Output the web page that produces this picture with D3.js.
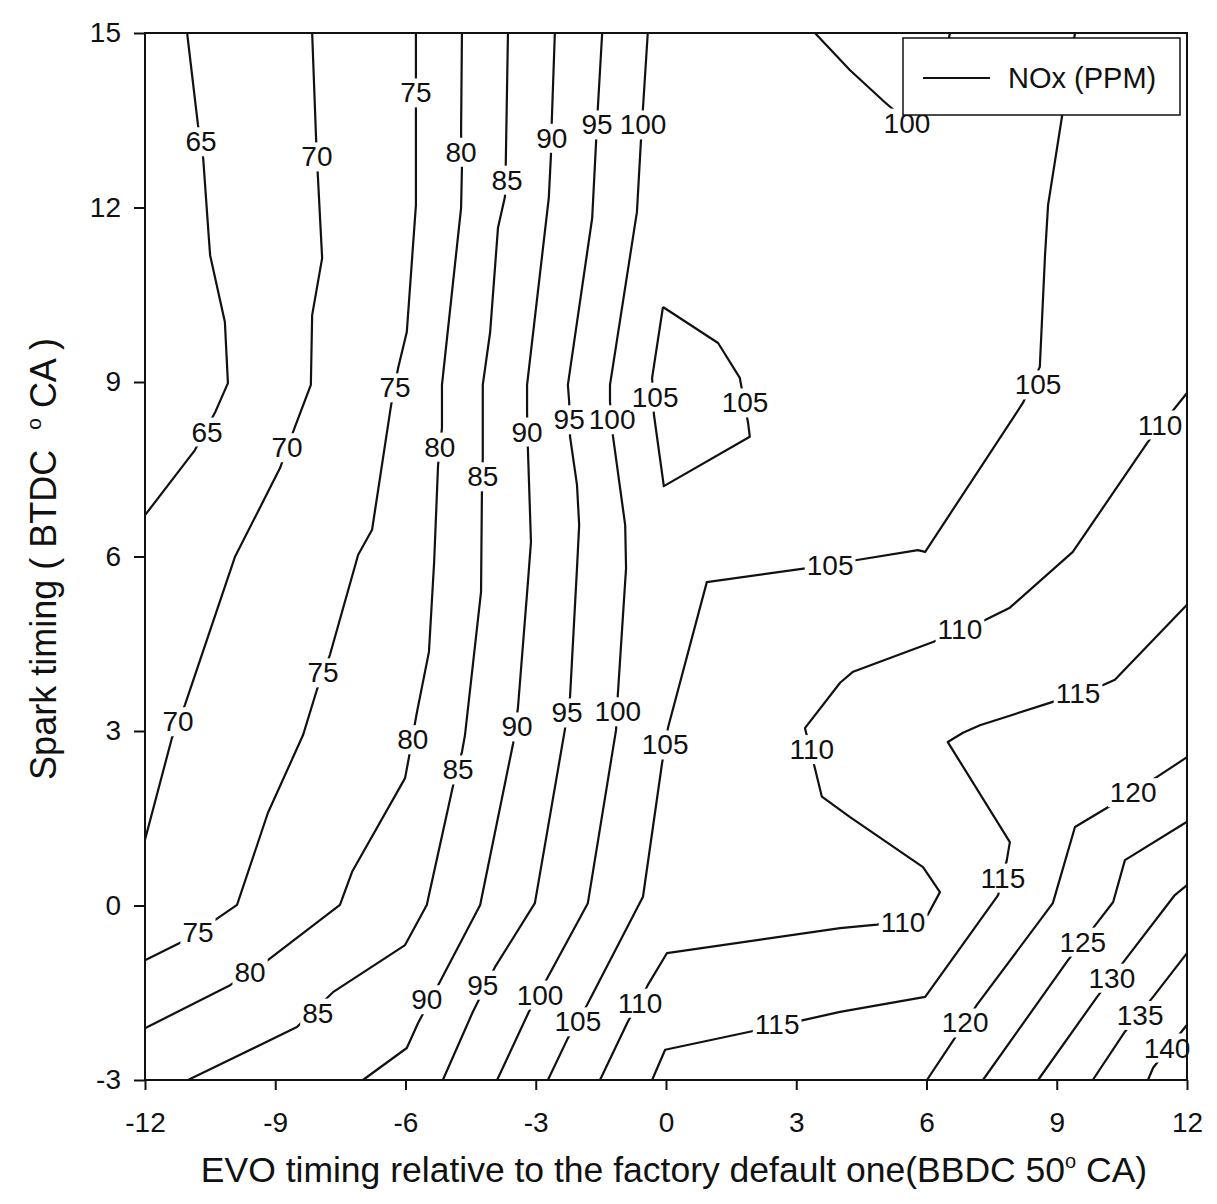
<!DOCTYPE html>
<html>
<head>
<meta charset="utf-8">
<script src="https://cdn.jsdelivr.net/npm/d3@7"></script>
<style>
  body { margin: 0; background: #fff; }
  svg text { font-family: "Liberation Sans", Arial, sans-serif; fill: #111; }
</style>
</head>
<body>
<svg id="chart" width="1217" height="1204"></svg>
<script>
// axis ticks
const xTicks = [-12, -9, -6, -3, 0, 3, 6, 9, 12];
const yTicks = [-3, 0, 3, 6, 9, 12, 15];

// NOx contour lines, vertices as [EVO timing, spark timing]
const nox65 = [[[-11.03,15],[-10.78,13.42],[-10.66,12.85],[-10.53,11.48],[-10.5,11.18],[-10.16,10.03],[-10.09,8.98],[-10.39,8.47],[-10.85,7.83],[-12,6.71]]];
const nox70 = [[[-8.15,15],[-8.06,13.19],[-8.02,12.56],[-7.92,11.13],[-8.15,10.15],[-8.18,8.95],[-8.57,8.18],[-8.89,7.52],[-9.93,5.99],[-11.08,3.45],[-11.38,2.88],[-12,1.13]]];
const nox75 = [[[-5.76,15],[-5.76,14.28],[-5.76,13.64],[-5.76,12.04],[-5.97,9.86],[-6.17,9.24],[-6.33,8.61],[-6.77,6.46],[-7.09,6.03],[-7.74,4.31],[-8.04,3.71],[-8.36,2.93],[-9.17,1.59],[-9.88,0.01],[-10.39,-0.25],[-11.19,-0.64],[-12,-0.94]]];
const nox80 = [[[-4.70,15],[-4.72,13.28],[-4.70,12.68],[-4.72,11.99],[-5.16,8.95],[-5.16,8.21],[-5.25,7.57],[-5.34,5.91],[-5.46,4.36],[-5.74,3.31],[-5.92,2.55],[-6.01,2.19],[-7.23,0.58],[-7.51,0.01],[-9.17,-0.94],[-10.04,-1.37],[-12,-2.11]]];
const nox85 = [[[-3.64,15],[-3.69,12.78],[-3.71,12.18],[-3.87,11.65],[-4.05,9.86],[-4.22,8.95],[-4.22,7.71],[-4.24,7.09],[-4.26,5.39],[-4.63,2.93],[-4.70,2.64],[-4.91,2.04],[-5.51,0.01],[-6.01,-0.68],[-7.67,-1.49],[-8.50,-2.09],[-11.01,-3]]];
const nox90 = [[[-2.56,15],[-2.63,13.50],[-2.65,12.90],[-2.70,12.16],[-3.20,8.95],[-3.20,8.47],[-3.18,7.83],[-3.11,6.25],[-3.18,5.56],[-3.41,3.40],[-3.52,2.79],[-4.28,0.01],[-5.27,-1.40],[-5.71,-2.02],[-5.97,-2.45],[-6.98,-3]]];
const nox95 = [[[-1.47,15],[-1.57,13.71],[-1.61,13.13],[-1.70,11.82],[-2.26,8.95],[-2.23,8.66],[-2.21,8.06],[-2.05,7.23],[-2.00,6.54],[-2.05,5.80],[-2.21,3.59],[-2.33,3.02],[-3.02,0.04],[-3.94,-1.06],[-4.45,-1.83],[-5.14,-3]]];
const nox100 = [
  [[-0.42,15],[-0.53,13.71],[-0.58,13.11],[-0.67,11.92],[-1.29,8.95],[-1.29,8.66],[-1.22,8.06],[-0.94,6.54],[-0.92,5.80],[-1.11,3.62],[-1.15,3.02],[-1.80,0.04],[-2.72,-1.23],[-3.16,-1.83],[-3.89,-3]],
  [[3.43,15],[4.24,14.36],[5.04,13.81],[5.6,13.45],[6.2,13.7],[6.54,15]]
];
const nox105 = [
  [[-0.07,10.29],[1.20,9.67],[1.70,9.07],[1.89,8.30],[1.93,8.06],[-0.05,7.21],[-0.28,8.45],[-0.32,9.07],[-0.07,10.29]],
  [[9.42,15],[9.12,13.56],[8.80,12.04],[8.73,11.18],[8.61,9.26],[8.22,8.64],[5.97,6.08],[5.80,6.11],[4.40,5.94],[3.25,5.80],[0.94,5.56],[0.05,3.07],[-0.09,2.45],[-0.53,0.15],[-1.82,-1.71],[-2.26,-2.28],[-2.72,-3]]
];
const nox110 = [[[12,8.81],[11.10,7.97],[9.37,6.08],[7.92,5.12],[7.35,4.91],[6.15,4.53],[4.31,4.02],[4.01,3.83],[3.20,3.05],[3.43,2.36],[3.59,1.87],[4.24,1.52],[5.92,0.66],[6.31,0.23],[6.03,-0.16],[4.86,-0.33],[4.01,-0.39],[0.02,-0.82],[-0.42,-1.37],[-0.88,-2.00],[-1.52,-3]]];
const nox115 = [[[12,5.17],[10.34,3.88],[10.07,3.79],[8.91,3.50],[7.23,3.10],[6.84,2.97],[6.49,2.81],[7.92,1.09],[7.85,0.78],[7.65,0.18],[5.97,-1.57],[4.01,-1.83],[3.16,-1.97],[1.93,-2.17],[-0.02,-2.48],[-0.32,-3]]];
const nox120 = [[[12,2.55],[11.31,2.21],[10.16,1.68],[9.42,1.35],[8.91,0.04],[7.16,-1.71],[6.59,-2.35],[6.01,-3]]];
const nox125 = [[[12,1.44],[10.57,0.78],[10.30,0.06],[9.93,-0.30],[9.26,-0.94],[7.30,-3]]];
const nox130 = [[[12,0.35],[11.72,0.18],[10.57,-0.94],[9.93,-1.57],[8.57,-3]]];
const nox135 = [[[12,-0.82],[11.22,-1.57],[10.57,-2.17],[9.83,-3]]];
const nox140 = [[[12,-2.05],[11.22,-2.79],[11.10,-3]]];

// in-line labels: [level, EVO timing, spark timing]
const contourLabels = [
  [65,-10.71,13.13],[65,-10.57,8.14],
  [70,-8.04,12.87],[70,-8.73,7.87],[70,-11.24,3.16],
  [75,-5.76,13.97],[75,-6.24,8.90],[75,-7.90,4.00],[75,-10.78,-0.47],
  [80,-4.72,12.95],[80,-5.21,7.88],[80,-5.83,2.85],[80,-9.58,-1.16],
  [85,-3.66,12.47],[85,-4.22,7.37],[85,-4.79,2.33],[85,-8.02,-1.85],
  [90,-2.63,13.19],[90,-3.20,8.14],[90,-3.43,3.07],[90,-5.51,-1.62],
  [95,-1.59,13.42],[95,-2.23,8.35],[95,-2.28,3.31],[95,-4.22,-1.37],
  [100,-0.53,13.42],[100,-1.24,8.35],[100,-1.11,3.33],[100,-2.90,-1.54],[100,5.55,13.45],
  [105,-0.25,8.74],[105,1.82,8.64],[105,8.57,8.95],[105,3.78,5.85],[105,-0.02,2.76],[105,-2.03,-2.00],
  [110,11.38,8.26],[110,6.77,4.74],[110,3.36,2.68],[110,5.46,-0.30],[110,-0.60,-1.68],
  [115,9.49,3.65],[115,7.76,0.47],[115,2.56,-2.05],
  [120,10.76,1.94],[120,6.89,-2.02],
  [125,9.60,-0.63],
  [130,10.27,-1.25],
  [135,10.92,-1.89],
  [140,11.54,-2.45]
];

const contourLines = [
  [65, nox65], [70, nox70], [75, nox75], [80, nox80], [85, nox85], [90, nox90],
  [95, nox95], [100, nox100], [105, nox105], [110, nox110], [115, nox115],
  [120, nox120], [125, nox125], [130, nox130], [135, nox135], [140, nox140]
];

const svg = d3.select("#chart");
const x = d3.scaleLinear().domain([-12, 12]).range([145, 1187]);
const y = d3.scaleLinear().domain([-3, 15]).range([1080, 33]);

const line = d3.line().x(d => x(d[0])).y(d => y(d[1]));

// contour lines
svg.append("g")
  .selectAll("path")
  .data(contourLines.flatMap(([lv, parts]) => parts.map(p => ({lv: lv, pts: p}))))
  .enter()
  .append("path")
    .attr("d", d => line(d.pts))
    .attr("fill", "none")
    .attr("stroke", "#111")
    .attr("stroke-width", 2.2)
    .attr("stroke-linejoin", "round");

// labels sit in a white gap on the line
const labels = svg.append("g");
contourLabels.forEach(([lv, a, b]) => {
  const g = labels.append("g");
  const t = g.append("text")
    .attr("x", x(a))
    .attr("y", y(b))
    .attr("text-anchor", "middle")
    .attr("dominant-baseline", "central")
    .attr("font-size", 28)
    .text(lv);
  const bb = t.node().getBBox();
  g.insert("rect", "text")
    .attr("x", bb.x - 2)
    .attr("y", bb.y + 1)
    .attr("width", bb.width + 4)
    .attr("height", bb.height - 2)
    .attr("fill", "#fff");
});

// frame
svg.append("rect")
  .attr("x", x(-12)).attr("y", y(15))
  .attr("width", x(12) - x(-12)).attr("height", y(-3) - y(15))
  .attr("fill", "none").attr("stroke", "#111").attr("stroke-width", 2);

// axes (plain hyphen for negatives, like the original)
const fmt = d => String(d);
const xAxis = svg.append("g")
  .attr("transform", `translate(0,${y(-3)})`)
  .call(d3.axisBottom(x).tickValues(xTicks).tickFormat(fmt).tickSize(10).tickSizeOuter(0).tickPadding(22));
const yAxis = svg.append("g")
  .attr("transform", `translate(${x(-12)},0)`)
  .call(d3.axisLeft(y).tickValues(yTicks).tickFormat(fmt).tickSize(11).tickSizeOuter(0).tickPadding(13));
[xAxis, yAxis].forEach(ax => {
  ax.select(".domain").remove();
  ax.selectAll(".tick line").attr("stroke", "#111").attr("stroke-width", 2);
  ax.selectAll(".tick text").attr("font-size", 28).attr("font-family", "Liberation Sans, Arial, sans-serif").attr("fill", "#111");
});

// axis titles
const xt = svg.append("text")
  .attr("x", 674).attr("y", 1182)
  .attr("text-anchor", "middle")
  .attr("font-size", 35.5)
  .style("white-space", "pre");
xt.append("tspan").text("EVO timing relative to the factory default one(BBDC 50");
xt.append("tspan").attr("font-size", 20).attr("dy", -14).text("o");
xt.append("tspan").attr("dy", 14).text(" CA)");

const yt = svg.append("text")
  .attr("transform", "translate(56,559) rotate(-90)")
  .attr("text-anchor", "middle")
  .attr("font-size", 36)
  .style("white-space", "pre");
yt.append("tspan").text("Spark timing ( BTDC  ");
yt.append("tspan").attr("font-size", 21).attr("dy", -15).text("o");
yt.append("tspan").attr("dy", 15).text(" CA )");

// legend
const leg = svg.append("g");
leg.append("rect")
  .attr("x", 903).attr("y", 38).attr("width", 277).attr("height", 77)
  .attr("fill", "#fff").attr("stroke", "#111").attr("stroke-width", 1.5);
leg.append("line")
  .attr("x1", 923).attr("x2", 990).attr("y1", 78).attr("y2", 78)
  .attr("stroke", "#111").attr("stroke-width", 2);
leg.append("text")
  .attr("x", 1008).attr("y", 78)
  .attr("dominant-baseline", "central")
  .attr("font-size", 29)
  .text("NOx (PPM)");
</script>
</body>
</html>
